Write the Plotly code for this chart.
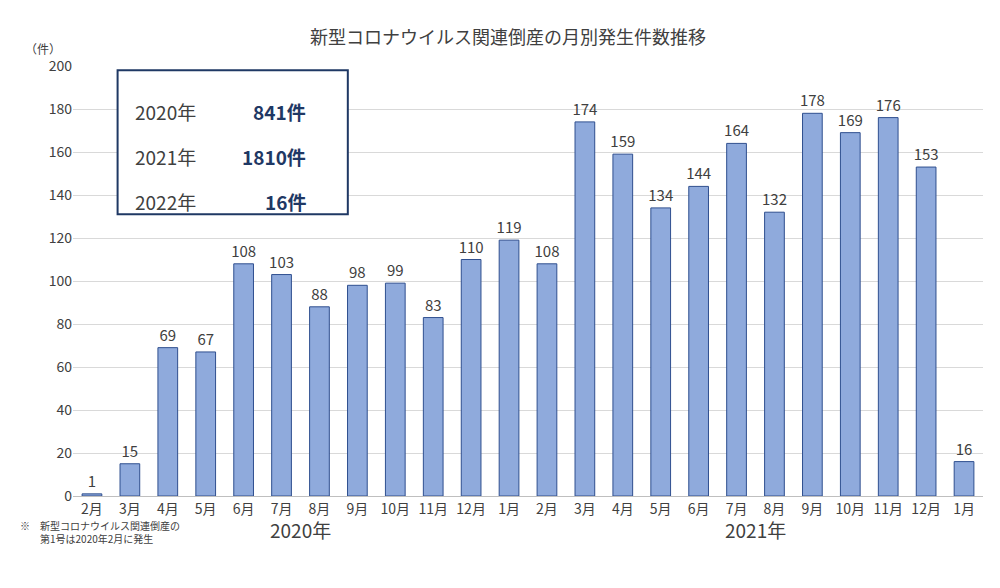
import plotly.graph_objects as go

months = ["2月","3月","4月","5月","6月","7月","8月","9月","10月","11月","12月",
          "1月","2月","3月","4月","5月","6月","7月","8月","9月","10月","11月","12月","1月"]
counts = [1,15,69,67,108,103,88,98,99,83,110,119,108,174,159,134,144,164,132,178,169,176,153,16]
year_totals = [("2020年", "841件"), ("2021年", "1810件"), ("2022年", "16件")]
y_ticks = [0,20,40,60,80,100,120,140,160,180,200]

x = list(range(len(counts)))
F = "Noto Sans CJK JP"
fig = go.Figure(go.Bar(
    x=x, y=counts, marker=dict(color="#8faadc", line=dict(color="#2f4f8f", width=1)),
    width=0.52, text=[str(c) for c in counts], textposition="outside",
    textfont=dict(size=15, color="#404040", family=F), cliponaxis=False))

fig.update_layout(
    width=1000, height=588, paper_bgcolor="white", plot_bgcolor="white",
    margin=dict(l=65, r=25, t=58, b=100), showlegend=False,
    uniformtext=dict(minsize=15, mode="show"),
    font=dict(family=F, color="#404040"),
    title=dict(text="新型コロナウイルス関連倒産の月別発生件数推移", x=0.5, xanchor="center",
               y=0.96, font=dict(size=18, color="#404040", family=F)),
    xaxis=dict(tickvals=x, ticktext=months, range=[-0.5, 23.5], tickfont=dict(size=14),
               showline=True, linecolor="#bfbfbf", ticks=""),
    yaxis=dict(range=[0, 200], tickvals=y_ticks, tickfont=dict(size=14), showgrid=True,
               gridcolor="#d9d9d9", zeroline=False, ticks=""),
)
fig.add_annotation(text="（件）", xref="paper", yref="paper", x=-0.055, y=1.065,
                   showarrow=False, font=dict(size=12), xanchor="left")
fig.add_annotation(text="2020年", xref="x", yref="paper", x=5.5, y=-0.115, showarrow=False,
                   font=dict(size=19))
fig.add_annotation(text="2021年", xref="x", yref="paper", x=17.5, y=-0.115, showarrow=False,
                   font=dict(size=19))
fig.add_annotation(text="※　新型コロナウイルス関連倒産の<br>　　第1号は2020年2月に発生", xref="paper", yref="paper",
                   x=-0.06, y=-0.12, xanchor="left", align="left", showarrow=False,
                   font=dict(size=10, color="#404040"))
fig.add_shape(type="rect", xref="paper", yref="paper", x0=0.049, x1=0.302, y0=0.655, y1=0.99,
              line=dict(color="#1f3864", width=2), fillcolor="white")
for i, (yr, tot) in enumerate(year_totals):
    yy = 0.93 - i * 0.105
    fig.add_annotation(text=yr, xref="paper", yref="paper", x=0.066, y=yy, xanchor="left",
                       showarrow=False, font=dict(size=19, color="#404040"))
    fig.add_annotation(text="<b>" + tot + "</b>", xref="paper", yref="paper", x=0.258, y=yy,
                       xanchor="right", showarrow=False, font=dict(size=19, color="#1f3864"))
fig.write_html("out.html")
